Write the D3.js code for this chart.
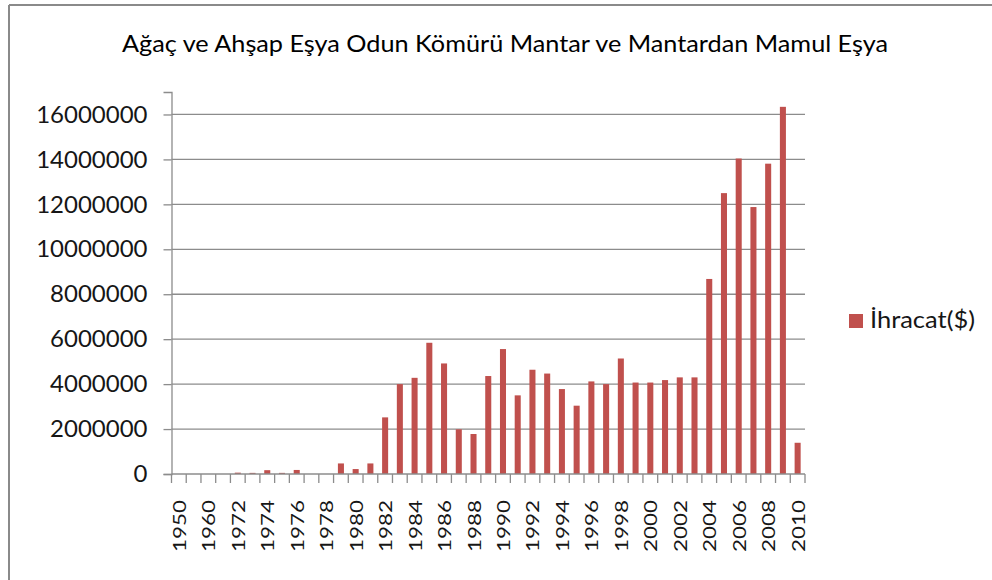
<!DOCTYPE html>
<html>
<head>
<meta charset="utf-8">
<script src="https://cdn.jsdelivr.net/npm/d3@7"></script>
<style>
  body { margin: 0; background: #ffffff; }
</style>
</head>
<body>
<div id="canvas"></div>
<script>
"use strict";

/* Data */
let title = "Ağaç ve Ahşap Eşya Odun Kömürü Mantar ve Mantardan Mamul Eşya";
let seriesName = "İhracat($)";

let years = ["1950", "1955", "1960", "1970",
  "1972", "1973", "1974", "1975", "1976", "1977", "1978", "1979",
  "1980", "1981", "1982", "1983", "1984", "1985", "1986", "1987", "1988", "1989",
  "1990", "1991", "1992", "1993", "1994", "1995", "1996", "1997", "1998", "1999",
  "2000", "2001", "2002", "2003", "2004", "2005", "2006", "2007", "2008", "2009",
  "2010"];

let exportValues = [0, 0, 0, 0,
  60000, 50000, 170000, 50000, 180000, 0, 0, 470000,
  220000, 470000, 2520000, 4000000, 4280000, 5840000, 4920000, 1990000, 1780000, 4360000,
  5560000, 3500000, 4640000, 4470000, 3780000, 3040000, 4120000, 4000000, 5140000, 4070000,
  4070000, 4180000, 4300000, 4300000, 8680000, 12500000, 14040000, 11880000, 13810000, 16340000,
  1390000];

let yTicks = [0, 2000000, 4000000, 6000000, 8000000, 10000000, 12000000, 14000000, 16000000];

/* Drawing config */
let svgWidth = 992;
let svgHeight = 580;
let plotLeft = 171.5;
let plotRight = 805;
let plotTop = 92;
let plotBottom = 474;
let barColor = "#C0504D";
let gridColor = "#8c8c8c";
let textColor = "#161616";
let fontFamily = "Lato, 'Open Sans', sans-serif";

let svg = d3.select("#canvas")
  .append("svg")
  .attr("width", svgWidth)
  .attr("height", svgHeight);

/* outer frame (top and left visible) */
svg.append("line")
  .attr("x1", 9).attr("x2", svgWidth)
  .attr("y1", 5).attr("y2", 5)
  .attr("stroke", "#8a8a8a").attr("stroke-width", 2);
svg.append("line")
  .attr("x1", 9).attr("x2", 9)
  .attr("y1", 5).attr("y2", svgHeight)
  .attr("stroke", "#8a8a8a").attr("stroke-width", 2);

/* Scales */
let barPad = 0.59;
let xScale = d3.scaleBand()
  .domain(years)
  .range([plotLeft, plotRight])
  .paddingInner(barPad)
  .paddingOuter(barPad / 2);

let yScale = d3.scaleLinear()
  .domain([0, 17000000])
  .range([plotBottom, plotTop]);

/* gridlines */
svg.selectAll("line.grid")
  .data(yTicks.filter(function (d) { return d > 0; }))
  .enter()
  .append("line")
  .attr("class", "grid")
  .attr("x1", plotLeft)
  .attr("x2", plotRight)
  .attr("y1", function (d) { return yScale(d); })
  .attr("y2", function (d) { return yScale(d); })
  .attr("stroke", gridColor)
  .attr("stroke-width", 1.3);

/* y axis */
let yAxis = d3.axisLeft(yScale)
  .tickValues(yTicks)
  .tickSize(8)
  .tickPadding(16)
  .tickFormat(function (d) { return String(d); });

let yAxisG = svg.append("g")
  .attr("transform", "translate(" + plotLeft + ",0)")
  .call(yAxis);
yAxisG.select(".domain").attr("stroke", gridColor).attr("stroke-width", 1.3);
yAxisG.selectAll(".tick line").attr("stroke", gridColor).attr("stroke-width", 1.3);
yAxisG.selectAll(".tick text")
  .attr("font-family", fontFamily)
  .attr("font-size", "24px")
  .attr("fill", textColor);

/* bars */
svg.selectAll("rect.bar")
  .data(years)
  .enter()
  .append("rect")
  .attr("class", "bar")
  .attr("x", function (d) { return xScale(d); })
  .attr("width", xScale.bandwidth())
  .attr("y", function (d, i) { return yScale(exportValues[i]); })
  .attr("height", function (d, i) { return plotBottom - yScale(exportValues[i]); })
  .attr("fill", barColor);

/* x axis line and ticks at category boundaries */
svg.append("line")
  .attr("x1", plotLeft).attr("x2", plotRight)
  .attr("y1", plotBottom).attr("y2", plotBottom)
  .attr("stroke", gridColor).attr("stroke-width", 1.3);

let step = xScale.step();
let boundaries = d3.range(years.length + 1);
svg.selectAll("line.xtick")
  .data(boundaries)
  .enter()
  .append("line")
  .attr("class", "xtick")
  .attr("x1", function (i) { return plotLeft + i * step; })
  .attr("x2", function (i) { return plotLeft + i * step; })
  .attr("y1", plotBottom)
  .attr("y2", plotBottom + 9)
  .attr("stroke", gridColor)
  .attr("stroke-width", 1.3);

/* x labels, every other year, rotated */
svg.selectAll("text.xlabel")
  .data(years.filter(function (d, i) { return i % 2 === 0; }))
  .enter()
  .append("text")
  .attr("class", "xlabel")
  .attr("transform", function (d) {
    let cx = xScale(d) + xScale.bandwidth() / 2;
    return "translate(" + cx + ",500) rotate(-90)";
  })
  .attr("text-anchor", "end")
  .attr("dominant-baseline", "central")
  .attr("font-family", fontFamily)
  .attr("font-size", "18px")
  .attr("textLength", 52)
  .attr("lengthAdjust", "spacingAndGlyphs")
  .attr("fill", textColor)
  .text(function (d) { return d; });

/* title */
svg.append("text")
  .attr("x", 505)
  .attr("y", 52)
  .attr("text-anchor", "middle")
  .attr("font-family", fontFamily)
  .attr("font-size", "23px")
  .attr("textLength", 766)
  .attr("lengthAdjust", "spacingAndGlyphs")
  .attr("fill", "#000")
  .text(title);

/* legend */
svg.append("rect")
  .attr("x", 849)
  .attr("y", 314)
  .attr("width", 14)
  .attr("height", 14)
  .attr("fill", barColor);

svg.append("text")
  .attr("x", 870)
  .attr("y", 328)
  .attr("font-family", fontFamily)
  .attr("font-size", "23px")
  .attr("textLength", 105)
  .attr("lengthAdjust", "spacingAndGlyphs")
  .attr("fill", textColor)
  .text(seriesName);
</script>
</body>
</html>
